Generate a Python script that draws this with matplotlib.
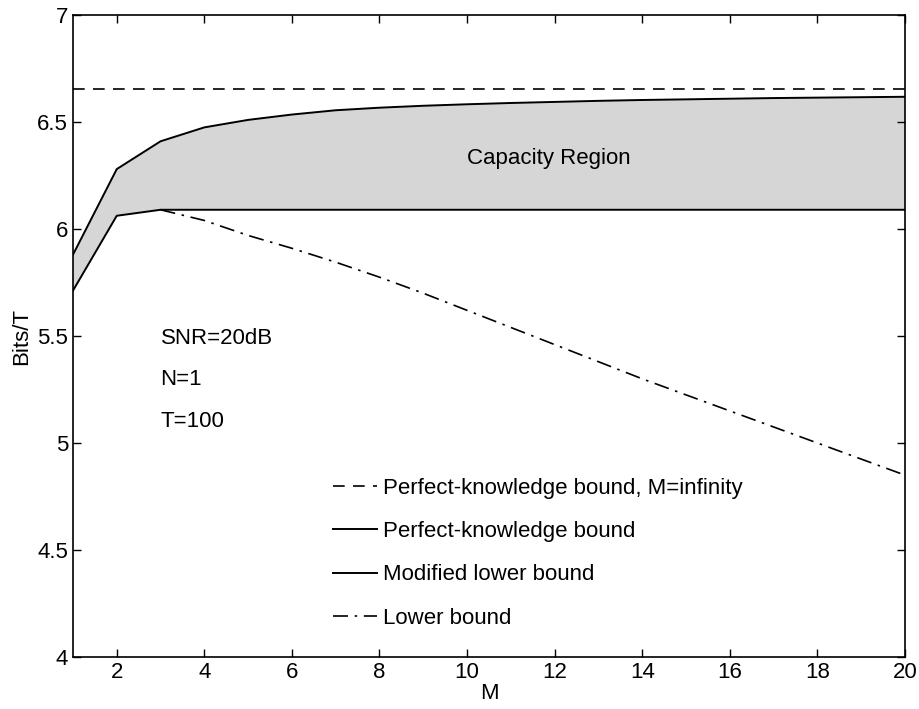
import matplotlib
matplotlib.use("Agg")
import matplotlib.pyplot as plt
import numpy as np

plt.rcParams['font.family'] = ['Liberation Sans', 'DejaVu Sans']

M = [1, 2, 3, 4, 5, 6, 7, 8, 9, 10, 11, 12, 13, 14, 15, 16, 17, 18, 19, 20]
perfect_knowledge = [5.88, 6.28, 6.41, 6.475, 6.51, 6.535, 6.555, 6.567, 6.576, 6.583,
                     6.589, 6.594, 6.599, 6.603, 6.606, 6.609, 6.612, 6.614, 6.616, 6.618]
modified_lower = [5.712, 6.062, 6.09, 6.09, 6.09, 6.09, 6.09, 6.09, 6.09, 6.09,
                  6.09, 6.09, 6.09, 6.09, 6.09, 6.09, 6.09, 6.09, 6.09, 6.09]
M_lower = [3, 4, 5, 6, 7, 8, 9, 10, 11, 12, 13, 14, 15, 16, 17, 18, 19, 20]
lower_bound = [6.09, 6.04, 5.97, 5.91, 5.845, 5.775, 5.70, 5.62, 5.54, 5.46,
               5.38, 5.30, 5.225, 5.15, 5.075, 5.00, 4.925, 4.85]
pk_infinity = 6.656

xticks = [2, 4, 6, 8, 10, 12, 14, 16, 18, 20]
yticks = [4, 4.5, 5, 5.5, 6, 6.5, 7]
ytick_labels = ["4", "4.5", "5", "5.5", "6", "6.5", "7"]

fig = plt.figure(figsize=(9.2, 7.09), dpi=100)
ax = fig.add_axes([0.0793, 0.0733, 0.9044, 0.9055])

ax.fill_between(M, modified_lower, perfect_knowledge, facecolor='#d6d6d6', edgecolor='none')
ax.plot([1, 20], [pk_infinity, pk_infinity], color='black', lw=1.2, ls=(0, (7, 5)),
        label='Perfect-knowledge bound, M=infinity')
ax.plot(M, perfect_knowledge, color='black', lw=1.4, label='Perfect-knowledge bound')
ax.plot(M, modified_lower, color='black', lw=1.4, label='Modified lower bound')
ax.plot(M_lower, lower_bound, color='black', lw=1.2, ls=(0, (9, 4, 1.5, 4)), label='Lower bound')

ax.set_xlim(1, 20)
ax.set_ylim(4, 7)
ax.set_xticks(xticks)
ax.set_yticks(yticks)
ax.set_yticklabels(ytick_labels)
ax.tick_params(direction='in', top=True, right=True, labelsize=16, length=6, width=1)
for s in ax.spines.values():
    s.set_linewidth(1.2)

ax.set_xlabel('M', fontsize=16, labelpad=0)
ax.set_ylabel('Bits/T', fontsize=16, labelpad=4)

ax.text(10.0, 6.33, 'Capacity Region', fontsize=16, va='center', ha='left')
ax.text(3.0, 5.49, 'SNR=20dB', fontsize=16, va='center', ha='left')
ax.text(3.0, 5.295, 'N=1', fontsize=16, va='center', ha='left')
ax.text(3.0, 5.10, 'T=100', fontsize=16, va='center', ha='left')

ax.legend(loc='upper left', bbox_to_anchor=(0.3125, 0.279), frameon=False, fontsize=16,
          handlelength=2.0, handletextpad=0.25, labelspacing=1.0, borderpad=0, borderaxespad=0)

fig.savefig('out.png', dpi=100)
